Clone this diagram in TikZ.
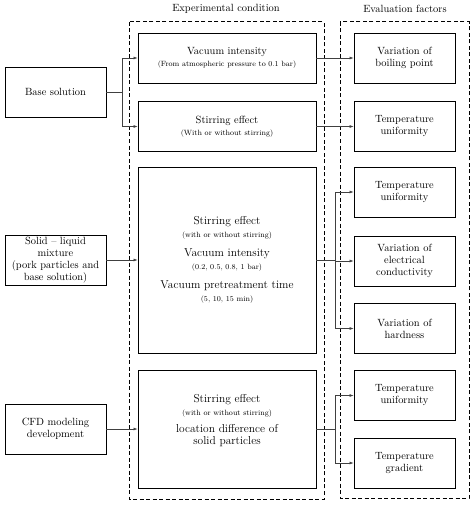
\documentclass[tikz,border=0pt]{standalone}
\usepackage{tikz}
\usetikzlibrary{positioning,arrows.meta}

\tikzstyle{factor}=[draw, line width=0.9bp, minimum width=101bp, minimum height=50bp,
  align=center, inner sep=2pt, font=\fontsize{10.5}{12}\selectfont]
\tikzstyle{condition}=[factor, minimum width=178bp]
\tikzstyle{group}=[draw, line width=1bp, dash pattern=on 4bp off 2.5bp]
\tikzstyle{link}=[draw=black!75, line width=0.6bp]
\newcommand{\note}[1]{{\fontsize{7.6}{9}\selectfont #1}}

\begin{document}
\begin{tikzpicture}[x=1bp,y=-1bp,>={Latex[length=4bp,width=3bp]}]
    \useasboundingbox (0,0) rectangle (474,505);

          % dashed groups and headings
          \draw[group] (129,22) rectangle (324,499);
          \draw[group] (340,22) rectangle (469,498);
          \node[font=\fontsize{10.5}{12}\selectfont] (head_c) at (226,9) {Experimental condition};
          \node[font=\fontsize{10.5}{12}\selectfont] (head_e) at (405,9) {Evaluation factors};

          % inputs
          \node[factor] (base)  at (55.5,92)  {Base solution};
          \node[factor] (mix)   at (55.5,260) {Solid -- liquid\\mixture\\(pork particles and\\base solution)};
          \node[factor] (cfd)   at (55.5,429) {CFD modeling\\development};

          % conditions
          \node[condition] (vac)  at (227,58)  {Vacuum intensity\\\note{(From atmospheric pressure to 0.1 bar)}};
          \node[condition] (stir) at (227,126.5) {Stirring effect\\\note{(With or without stirring)}};
          \node[condition, minimum height=186bp, font=\fontsize{11.5}{13}\selectfont]
                (pre) at (227,260)
                {Stirring effect\\\note{(with or without stirring)}\\[6bp]
                 Vacuum intensity\\\note{(0.2, 0.5, 0.8, 1 bar)}\\[6bp]
                 Vacuum pretreatment time\\\note{(5, 10, 15 min)}};
          \node[condition, minimum height=118bp, font=\fontsize{11.5}{13}\selectfont]
                (sim) at (227,429)
                {Stirring effect\\\note{(with or without stirring)}\\[4bp]
                 location difference of\\solid particles\\[6bp]};

          % evaluation factors
          \node[factor] (boil)  at (404.5,58)    {Variation of\\boiling point};
          \node[factor] (unif1) at (404.5,126.5) {Temperature\\uniformity};
          \node[factor] (unif2) at (404.5,192)   {Temperature\\uniformity};
          \node[factor] (cond)  at (404.5,261)   {Variation of\\electrical\\conductivity};
          \node[factor] (hard)  at (404.5,328.5) {Variation of\\hardness};
          \node[factor] (unif3) at (404.5,395.5) {Temperature\\uniformity};
          \node[factor] (grad)  at (404.5,463)   {Temperature\\gradient};

          % connectors
          \coordinate (j_base) at (122,92);
          \coordinate (j_pre)  at (335,260);
          \coordinate (j_sim)  at (335,429);

          \path[link] (base) -- (j_base);
          \path[link,->] (j_base) |- (vac.west);
          \path[link,->] (j_base) |- (stir.west);
          \path[link,->] (mix) -- (pre);
          \path[link,->] (cfd) -- (sim);

          \path[link,->] (vac) -- (boil);
          \path[link,->] (stir) -- (unif1);

          \path[link] (pre.east |- j_pre) -- (j_pre);
          \path[link,->] (j_pre) |- (unif2.west);
          \path[link,->] (j_pre) |- (cond.west);
          \path[link,->] (j_pre) |- (hard.west);

          \path[link] (sim) -- (j_sim);
          \path[link,->] (j_sim) |- (unif3.west);
          \path[link,->] (j_sim) |- (grad.west);
        \end{tikzpicture}
\end{document}
